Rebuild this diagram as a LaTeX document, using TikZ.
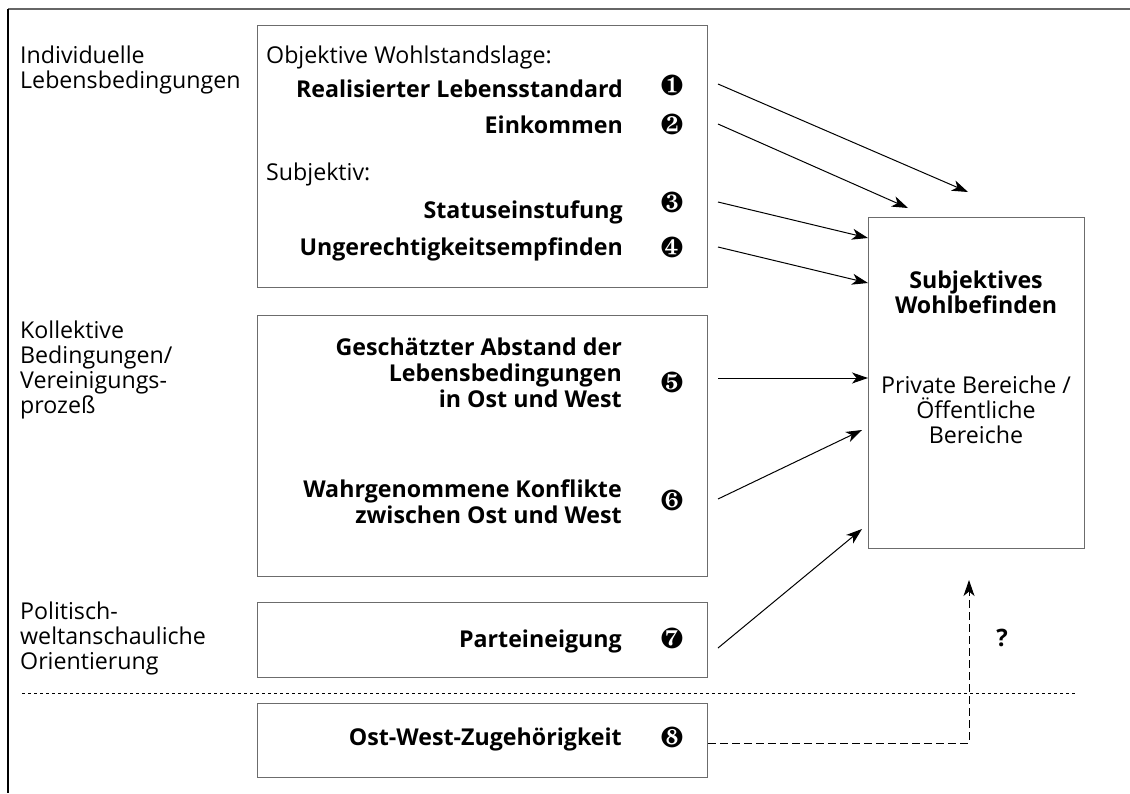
\documentclass[tikz,border=0pt]{standalone}
\usepackage{fontspec}
\setmainfont{Open Sans}
\usepackage{pifont}
\usetikzlibrary{arrows.meta,calc}

\tikzset{
  frame/.style={draw=gray!85!black, line width=1.3pt},
  lbl/.style={font=\fontsize{23.2}{25}\selectfont, align=left, anchor=base west, inner sep=0pt},
  item/.style={font=\fontsize{23.2}{26}\selectfont\bfseries, align=right, anchor=base east, inner sep=0pt},
  num/.style={font=\fontsize{29}{29}\selectfont, inner sep=0pt},
  arr/.style={-{Stealth[length=16pt,width=11pt,inset=4.5pt]}, line width=1pt},
}

\begin{document}
\begin{tikzpicture}[x=1pt,y=-1pt]
\useasboundingbox (0,0) rectangle (1130,793);

% Outer frame
\draw[draw=gray!80!black, line width=1.3pt] (1130,9) -- (8,9);
\draw[line width=1.3pt] (8,9) -- (8,793);

% Row labels (anchored at the last baseline)
\node[lbl] (lind) at (20,88) {Individuelle\\Lebensbedingungen};
\node[lbl] (lkol) at (20,413) {Kollektive\\Bedingungen/\\Vereinigungs-\\prozeß};
\node[lbl] (lpol) at (20,669) {Politisch-\\weltanschauliche\\Orientierung};

% Boxes
\node[frame, minimum width=450pt, minimum height=262pt, anchor=north west] (ba) at (257,25) {};
\node[frame, minimum width=450pt, minimum height=261pt, anchor=north west] (bb) at (257,315) {};
\node[frame, minimum width=450pt, minimum height=75pt, anchor=north west] (bc) at (257,602) {};
\node[frame, minimum width=450pt, minimum height=74pt, anchor=north west] (bd) at (257,703) {};
\node[frame, minimum width=216pt, minimum height=331pt, anchor=north west] (w) at (868,217) {};

% Individual conditions
\node[lbl] (obj) at (266,63) {Objektive Wohlstandslage:};
\node[item] (real) at (623,97) {Realisierter Lebensstandard};
\node[item] (eink) at (623,133) {Einkommen};
\node[lbl] (subj) at (266,180) {Subjektiv:};
\node[item] (stat) at (623,218) {Statuseinstufung};
\node[item] (unge) at (623,255) {Ungerechtigkeitsempfinden};

% Collective conditions
\node[item] (abst) at (622,407) {Geschätzter Abstand der\\Lebensbedingungen\\in Ost und West};
\node[item] (konf) at (622,523) {Wahrgenommene Konflikte\\zwischen Ost und West};

% Orientation and East-West
\node[item] (part) at (622,647) {Parteineigung};
\node[item] (ostw) at (622,745) {Ost-West-Zugehörigkeit};

% Numbers
\node[num] (n1) at (672,85) {\ding{182}};
\node[num] (n2) at (672,124) {\ding{183}};
\node[num] (n3) at (672,202) {\ding{184}};
\node[num] (n4) at (672,247) {\ding{185}};
\node[num] (n5) at (672,382) {\ding{186}};
\node[num] (n6) at (672,500) {\ding{187}};
\node[num] (n7) at (672,638) {\ding{188}};
\node[num] (n8) at (672,737) {\ding{189}};

% Target
\node[font=\fontsize{23.2}{25}\selectfont\bfseries, align=center, anchor=base, inner sep=0pt] (wtit) at (976,313) {Subjektives\\Wohlbefinden};
\node[font=\fontsize{23.2}{25}\selectfont, align=center, anchor=base, inner sep=0pt] (wsub) at (976,443) {Private Bereiche /\\Öffentliche\\Bereiche};

% Separator
\coordinate (sepl) at (22,693);
\coordinate (sepr) at (1077,693);
\draw[line width=0.8pt, dash pattern=on 3pt off 3pt] (sepl) -- (sepr);

% Arrows
\coordinate (s1) at (718,84);  \coordinate (e1) at (968,192);
\coordinate (s2) at (718,124); \coordinate (e2) at (908,208);
\coordinate (s3) at (718,202); \coordinate (e3) at (868,238);
\coordinate (s4) at (718,247); \coordinate (e4) at (868,283);
\coordinate (s5) at (718,378); \coordinate (e5) at (868,378);
\coordinate (s6) at (718,499); \coordinate (e6) at (862,430);
\coordinate (s7) at (718,648); \coordinate (e7) at (862,529);
\foreach \i in {1,...,7}
  \draw[arr] (s\i) -- (e\i);

\coordinate (e8) at (969,580);
\draw[arr, dash pattern=on 8pt off 4pt] (bd.east |- 0,743) -| (e8);
\node[font=\fontsize{24}{24}\selectfont\bfseries, inner sep=0pt] (q) at (1002,638) {?};
\end{tikzpicture}
\end{document}
